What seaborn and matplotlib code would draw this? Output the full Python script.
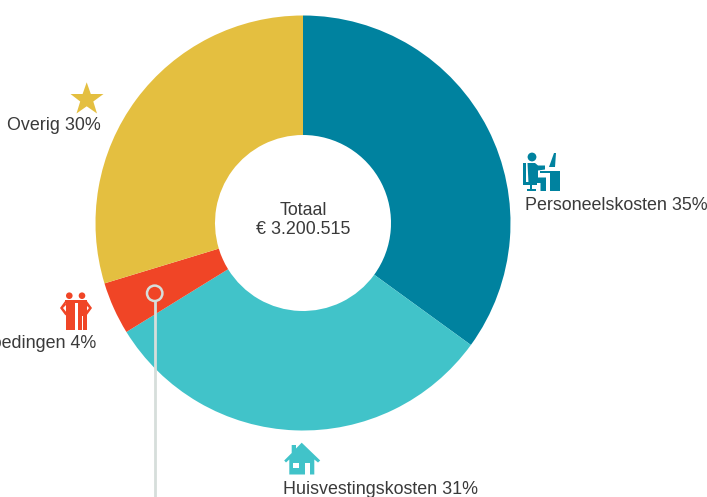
import matplotlib
matplotlib.use("Agg")
import matplotlib.pyplot as plt
import seaborn as sns
from matplotlib.patches import Circle, Polygon, Rectangle

categories = ["Personeelskosten", "Huisvestingskosten", "Vergoedingen", "Overig"]
shares = [35.0, 31.2, 4.1, 29.7]
share_labels = [35, 31, 4, 30]
colors = ["#00829f", "#41c3c9", "#f04526", "#e4bf40"]
total_label = "Totaal\n€ 3.200.515"

sns.set_theme(style="white")
plt.rcParams["font.family"] = ["Liberation Sans", "DejaVu Sans"]
TXT = "#3a3a3a"

fig = plt.figure(figsize=(7.07, 4.97), dpi=100)
ax_pie = fig.add_axes([0, 0, 1, 1])
ax_pie.pie(shares, colors=sns.color_palette(colors), startangle=90, counterclock=False,
           radius=207.5, center=(303, 497 - 223), frame=True,
           wedgeprops=dict(width=119.5, linewidth=0))
ax_pie.set_xlim(0, 707)
ax_pie.set_ylim(0, 497)
ax_pie.set_aspect("equal")
ax_pie.axis("off")

# overlay in top-left pixel coordinates for texts and decoration
ax = fig.add_axes([0, 0, 1, 1])
ax.set_xlim(0, 707)
ax.set_ylim(497, 0)
ax.axis("off")

fs = 12.85
ax.text(303.5, 220, total_label, ha="center", va="center", fontsize=fs, color=TXT, linespacing=1.15)
ax.text(525, 206, f"{categories[0]} {share_labels[0]}%", ha="left", va="center", fontsize=fs, color=TXT)
ax.text(283, 489, f"{categories[1]} {share_labels[1]}%", ha="left", va="center", fontsize=fs, color=TXT)
ax.text(96, 343, f"{categories[2]} {share_labels[2]}%", ha="right", va="center", fontsize=fs, color=TXT)
ax.text(101, 126, f"{categories[3]} {share_labels[3]}%", ha="right", va="center", fontsize=fs, color=TXT)

# callout
GREY = "#d6dedb"
ax.plot([154.7, 154.7], [300.5, 497], color=GREY, lw=2.0, solid_capstyle="butt", zorder=5)
ax.add_patch(Circle((154.7, 293.3), 7.7, fc="none", ec=GREY, lw=1.8, zorder=5))

# star
c = colors[3]
ax.add_patch(Polygon([(86.7, 82.3), (90.8, 94), (103.5, 94), (93.3, 101.5), (97, 113.5), (86.7, 106.3),
                      (76.5, 113.5), (80.2, 101.5), (70.5, 94), (82.6, 94)], fc=c, ec="none"))

# house
c = colors[1]
ax.add_patch(Polygon([(301.7, 442.7), (320.2, 460.5), (318, 462.5), (314.3, 459.5), (314.3, 474.5),
                      (289.3, 474.5), (289.3, 459.5), (286, 462.5), (284.2, 460.5), (291.7, 453),
                      (291.7, 445), (296, 445), (296, 448.5)], fc=c, ec="none"))
ax.add_patch(Rectangle((293.3, 462.7), 6, 5.6, fc="white", ec="none"))
ax.add_patch(Rectangle((305, 463), 5, 11.5, fc="white", ec="none"))

# desk worker
c = colors[0]
ax.add_patch(Circle((532, 157), 4.4, fc=c, ec="none"))
ax.add_patch(Polygon([(527.5, 163), (535, 163), (538, 165.5), (545, 165.5), (545, 169.5), (538, 170.5),
                      (538, 177.5), (546, 177.5), (546, 191), (540.5, 191), (540.5, 183), (528.5, 183)],
                     fc=c, ec="none"))
ax.add_patch(Rectangle((523, 163), 2.8, 20, fc=c, ec="none"))
ax.add_patch(Rectangle((523, 182), 14, 2.5, fc=c, ec="none"))
ax.add_patch(Rectangle((530, 184), 2, 5, fc=c, ec="none"))
ax.add_patch(Rectangle((527, 188.5), 8.5, 2.5, fc=c, ec="none"))
ax.add_patch(Rectangle((540, 170.5), 20, 2.5, fc=c, ec="none"))
ax.add_patch(Rectangle((550, 170.5), 10, 20.5, fc=c, ec="none"))
ax.add_patch(Polygon([(554, 153), (556, 153), (555, 167), (549, 167)], fc=c, ec="none"))

# two people
c = colors[2]
ax.add_patch(Circle((69.3, 295.7), 3.3, fc=c, ec="none"))
ax.add_patch(Circle((82, 295.7), 3.3, fc=c, ec="none"))
ax.add_patch(Rectangle((65, 300.3), 22, 3, fc=c, ec="none"))
for x0, x1 in ((65.5, 69.7), (70.3, 74.7), (78, 81.7), (82.7, 87)):
    ax.add_patch(Rectangle((x0, 302), x1 - x0, 28, fc=c, ec="none"))
ax.add_patch(Rectangle((65.5, 302), 9.2, 14, fc=c, ec="none"))
ax.add_patch(Rectangle((78, 302), 9, 14, fc=c, ec="none"))
ax.add_patch(Polygon([(65.5, 300.5), (60, 308), (65.5, 315.5), (67, 313), (63, 308), (66, 305)], fc=c, ec="none"))
ax.add_patch(Polygon([(86.5, 300.5), (92, 308), (86.5, 315.5), (85, 313), (89, 308), (86, 305)], fc=c, ec="none"))

fig.savefig("out.png", dpi=100, facecolor="white")
